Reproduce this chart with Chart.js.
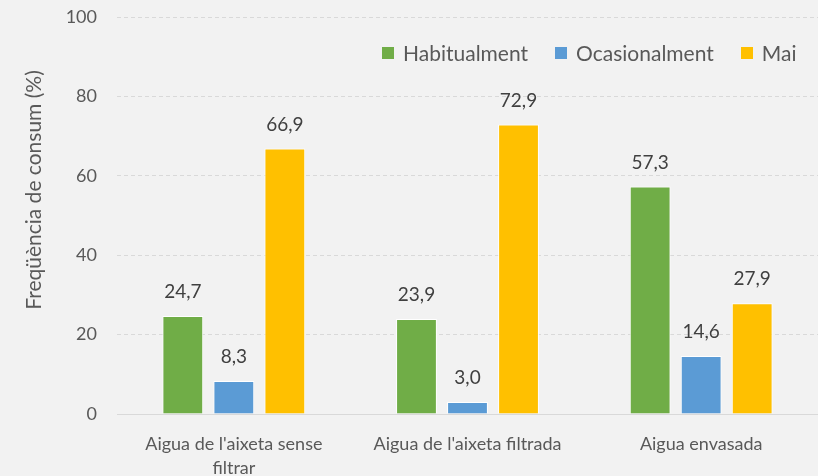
<!DOCTYPE html>
<html>
<head>
<meta charset="utf-8">
<script src="https://cdn.jsdelivr.net/npm/chart.js@4/dist/chart.umd.min.js"></script>
<style>
  html, body { margin: 0; padding: 0; background: #F2F2F2; }
  #wrap { position: relative; width: 818px; height: 476px; }
  #legend { position: absolute; top: 40px; left: 382px; display: flex; font-family: Lato, 'Open Sans', sans-serif; font-size: 21px; line-height: 26px; color: #595959; }
  #legend span.item { display: flex; align-items: center; margin-right: 27px; }
  #legend span.box { width: 12px; height: 12px; margin-right: 9px; display: inline-block; }
</style>
</head>
<body>
<div id="wrap">
  <canvas id="chart" width="818" height="476"></canvas>
  <div id="legend"></div>
</div>
<script>
// chart data
const categories = [["Aigua de l'aixeta sense", 'filtrar'], "Aigua de l'aixeta filtrada", 'Aigua envasada'];
const seriesNames = ['Habitualment', 'Ocasionalment', 'Mai'];
const habitualment = [24.7, 23.9, 57.3];
const ocasionalment = [8.3, 3.0, 14.6];
const mai = [66.9, 72.9, 27.9];
const yTicks = [0, 20, 40, 60, 80, 100];
const yTitle = 'Freqüència de consum (%)';

const COLORS = ['#70AD47', '#5B9BD5', '#FFC000'];
const TEXT = '#595959';
const FONT = "Lato, 'Open Sans', sans-serif";

const fmt = v => v.toFixed(1).replace('.', ',');

// value labels above each bar + y axis title
const barLabels = {
  id: 'barLabels',
  afterDatasetsDraw(chart) {
    const ctx = chart.ctx;
    ctx.save();
    ctx.font = '19px ' + FONT;
    ctx.fillStyle = '#404040';
    ctx.textAlign = 'center';
    ctx.textBaseline = 'middle';
    chart.data.datasets.forEach((ds, i) => {
      chart.getDatasetMeta(i).data.forEach((bar, j) => {
        ctx.fillText(fmt(ds.data[j]), bar.x, bar.y - 24);
      });
    });
    ctx.translate(34, 190);
    ctx.rotate(-Math.PI / 2);
    ctx.font = '21px ' + FONT;
    ctx.fillStyle = TEXT;
    ctx.fillText(yTitle, 0, 0);
    ctx.restore();
  }
};

const datasets = [habitualment, ocasionalment, mai].map((data, i) => ({
  label: seriesNames[i],
  data,
  backgroundColor: COLORS[i],
  borderColor: '#FFFFFF',
  borderWidth: 1,
  categoryPercentage: 0.655,
  barPercentage: 0.8,
}));

new Chart(document.getElementById('chart'), {
  type: 'bar',
  data: { labels: categories, datasets },
  options: {
    responsive: false,
    animation: false,
    layout: { padding: { top: 17, right: 0, left: 0, bottom: 0 } },
    plugins: { legend: { display: false }, tooltip: { enabled: false } },
    scales: {
      x: {
        grid: { display: false },
        border: { display: true, color: '#D9D9D9', width: 1 },
        ticks: { color: TEXT, font: { family: FONT, size: 18, lineHeight: 1.35 }, padding: 10, maxRotation: 0 },
        afterFit: s => { s.height = 62; s.paddingLeft = 0; s.paddingRight = 0; },
      },
      y: {
        min: 0,
        max: 100,
        afterBuildTicks: s => { s.ticks = yTicks.map(v => ({ value: v })); },
        grid: { color: c => c.tick && c.tick.value === 0 ? 'rgba(0,0,0,0)' : '#D9D9D9', drawTicks: false },
        border: { display: false, dash: [4, 3] },
        ticks: { color: TEXT, font: { family: FONT, size: 18 }, padding: 20 },
        afterFit: s => { s.width = 117; s.paddingTop = 0; s.paddingBottom = 0; },
      },
    },
  },
  plugins: [barLabels],
});

// legend
const legend = document.getElementById('legend');
seriesNames.forEach((name, i) => {
  const item = document.createElement('span');
  item.className = 'item';
  item.innerHTML = '<span class="box" style="background:' + COLORS[i] + '"></span>' + name;
  legend.appendChild(item);
});
</script>
</body>
</html>
